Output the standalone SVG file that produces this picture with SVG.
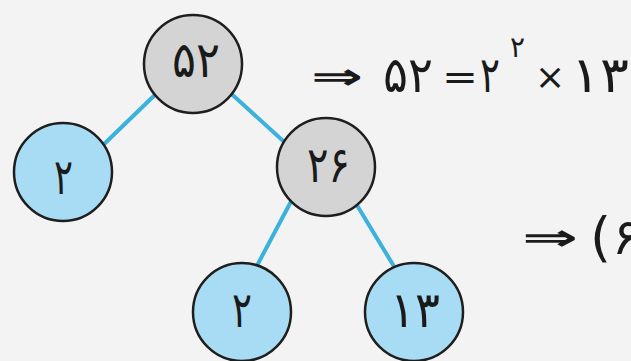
<svg xmlns="http://www.w3.org/2000/svg" width="631" height="361" viewBox="0 0 631 361">
<style>
.edge{stroke:#3ab2dc;stroke-width:4;fill:none;stroke-linecap:round}
.inner{fill:#d4d4d4;stroke:#1e1e1e;stroke-width:2.5}
.leaf{fill:#a8dcf5;stroke:#1e1e1e;stroke-width:2.5}
.lbl{font-family:"DejaVu Sans","Noto Sans",sans-serif;font-size:50px;fill:#1a1a1a}
.eq{font-family:"DejaVu Sans","Noto Sans",sans-serif;font-size:50px;fill:#1a1a1a}
.sup{font-family:"DejaVu Sans","Noto Sans",sans-serif;font-size:29px;fill:#1a1a1a}
.op{font-family:"DejaVu Sans","Noto Sans",sans-serif;font-size:36px;fill:#1a1a1a}
.par{font-family:"DejaVu Sans","Noto Sans",sans-serif;font-size:54px;fill:#1a1a1a}
.arr{font-family:"DejaVu Sans","Noto Sans",sans-serif;font-size:36px;font-weight:bold;fill:#1a1a1a}
</style>
<rect width="631" height="361" fill="#f3f3f3"/>
<g id="connectors">
<line class="edge" x1="160" y1="90" x2="100" y2="148"/>
<line class="edge" x1="225" y1="88" x2="292" y2="149"/>
<line class="edge" x1="295" y1="194" x2="252" y2="275"/>
<line class="edge" x1="352" y1="197" x2="398" y2="273"/>
</g>
<g id="n52"><circle class="inner" cx="193" cy="64" r="49"/><text class="lbl" x="172" y="77" textLength="48" lengthAdjust="spacingAndGlyphs">۵۲</text></g>
<g id="n2a"><circle class="leaf" cx="63" cy="172" r="49"/><text class="lbl" x="54" y="194" textLength="19" lengthAdjust="spacingAndGlyphs">۲</text></g>
<g id="n26"><circle class="inner" cx="326" cy="167" r="49"/><text class="lbl" x="307" y="182" textLength="43" lengthAdjust="spacingAndGlyphs">۲۶</text></g>
<g id="n2b"><circle class="leaf" cx="242" cy="312" r="49"/><text class="lbl" x="232" y="327" textLength="20" lengthAdjust="spacingAndGlyphs">۲</text></g>
<g id="n13"><circle class="leaf" cx="414" cy="312" r="49"/><text class="lbl" x="390" y="327" textLength="50" lengthAdjust="spacingAndGlyphs">۱۳</text></g>
<g id="eq1">
<text class="arr" x="311" y="89" textLength="52" lengthAdjust="spacingAndGlyphs">⇒</text>
<text class="eq" x="383" y="92" textLength="50" lengthAdjust="spacingAndGlyphs">۵۲</text>
<text class="op" x="442" y="89" textLength="36" lengthAdjust="spacingAndGlyphs">=</text>
<text class="eq" x="480" y="92" textLength="20" lengthAdjust="spacingAndGlyphs">۲</text>
<text class="sup" x="510" y="57" textLength="15" lengthAdjust="spacingAndGlyphs">۲</text>
<text class="op" x="535" y="89">×</text>
<text class="eq" x="571" y="92" textLength="58" lengthAdjust="spacingAndGlyphs">۱۳</text>
</g>
<g id="eq2">
<text class="arr" x="522" y="250" textLength="56" lengthAdjust="spacingAndGlyphs">⇒</text>
<text class="par" x="590" y="256">(</text>
<text class="eq" x="612" y="254">۶</text>
</g>
</svg>
